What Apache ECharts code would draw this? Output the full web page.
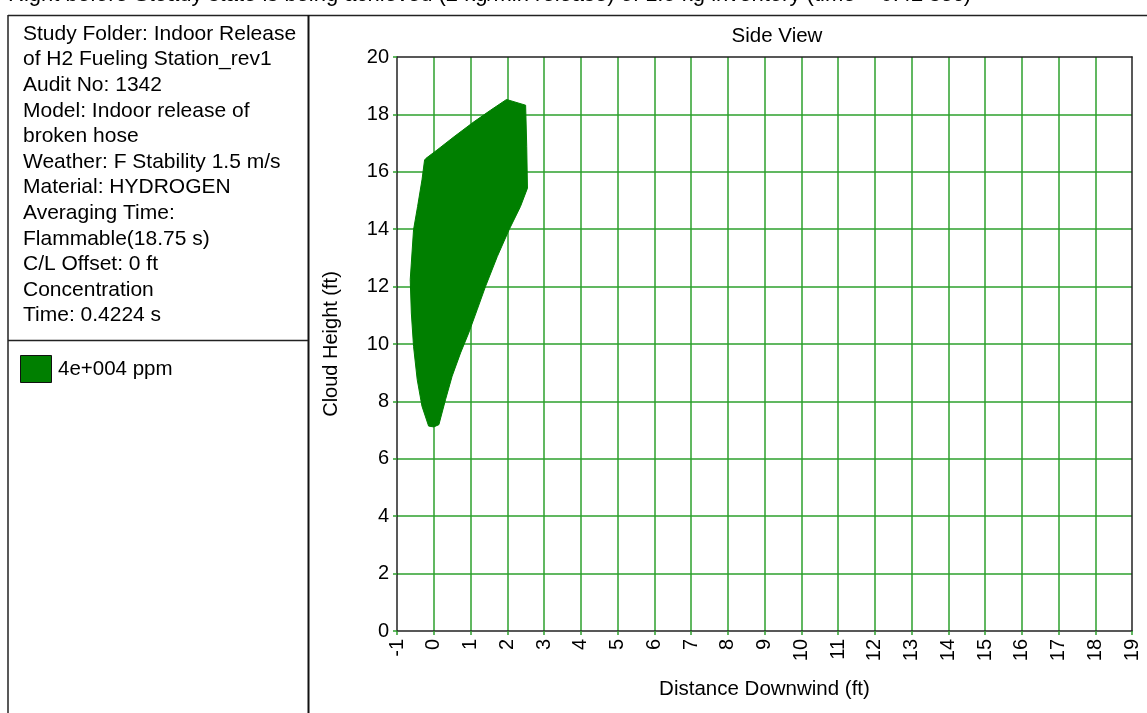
<!DOCTYPE html>
<html>
<head>
<meta charset="utf-8">
<script src="https://cdn.jsdelivr.net/npm/echarts@6/dist/echarts.min.js"></script>
<style>
  html, body { margin: 0; padding: 0; background: #fff; }
  #chart { width: 1147px; height: 713px; }
</style>
</head>
<body>
<div id="chart"></div>
<script>
// Outline of the 4e+004 ppm cloud, side view (ft), traced clockwise from the top peak
const shapeX = [1.98, 2.5, 2.53, 2.55, 2.36, 2.05, 1.73, 1.41, 1.18, 0.95, 0.73, 0.5, 0.32, 0.14, 0, -0.14,
  -0.32, -0.45, -0.55, -0.61, -0.64, -0.61, -0.55, -0.44, -0.32, -0.25, -0.21, 0.09, 0.55, 1.09, 1.55];
const shapeY = [18.52, 18.32, 16.88, 15.43, 14.79, 13.98, 13.05, 12.01, 11.19, 10.38, 9.69, 8.88, 8.06, 7.19, 7.11, 7.14,
  7.83, 8.76, 9.92, 11.08, 12.24, 12.82, 13.98, 14.79, 15.72, 16.41, 16.47, 16.76, 17.22, 17.74, 18.15];

const pageTitle = 'Right before Steady state is being achieved (2 kg/min release) of 1.5 kg inventory (time = 0.42 sec)';
const infoLines = [
  'Study Folder: Indoor Release',
  'of H2 Fueling Station_rev1',
  'Audit No: 1342',
  'Model: Indoor release of',
  'broken hose',
  'Weather: F Stability 1.5 m/s',
  'Material: HYDROGEN',
  'Averaging Time:',
  'Flammable(18.75 s)',
  'C/L Offset: 0 ft',
  'Concentration',
  'Time: 0.4224 s'
];
const legendLabel = '4e+004 ppm';

const FONT = '"Liberation Sans", Arial, sans-serif';
const GRID_GREEN = '#2ca02c';
const CLOUD_GREEN = '#007f00';

const chart = echarts.init(document.getElementById('chart'));

// left info panel: frame, text lines and the legend swatch
const graphics = [
  {type: 'text', left: 8, top: -16, style: {text: pageTitle, font: '22px ' + FONT, fill: '#000'}},
  {type: 'line', shape: {x1: 8, y1: 15.5, x2: 1147, y2: 15.5}, style: {stroke: '#222', lineWidth: 1.5}},
  {type: 'line', shape: {x1: 8, y1: 15, x2: 8, y2: 713}, style: {stroke: '#222', lineWidth: 1.5}},
  {type: 'line', shape: {x1: 308.5, y1: 15, x2: 308.5, y2: 713}, style: {stroke: '#111', lineWidth: 2}},
  {type: 'line', shape: {x1: 8, y1: 340.5, x2: 308, y2: 340.5}, style: {stroke: '#222', lineWidth: 1.5}},
  {type: 'rect', shape: {x: 20.5, y: 355.5, width: 31, height: 27}, style: {fill: CLOUD_GREEN, stroke: '#111', lineWidth: 1}},
  {type: 'text', left: 58, top: 359, style: {text: legendLabel, font: '20.5px ' + FONT, fill: '#000'}}
];
infoLines.forEach((t, i) => {
  graphics.push({type: 'text', left: 23, top: 23.5 + i * 25.6, style: {text: t, font: '21px ' + FONT, fill: '#000'}});
});

const option = {
  backgroundColor: '#fff',
  animation: false,
  textStyle: {fontFamily: FONT},
  title: {
    text: 'Side View',
    left: 772,
    textAlign: 'center',
    top: 21,
    textStyle: {fontSize: 20.5, fontWeight: 'normal', color: '#000', fontFamily: FONT}
  },
  grid: {left: 397, right: 15, top: 57, bottom: 82},
  xAxis: [
    {
      type: 'value',
      min: -1,
      max: 19,
      interval: 1,
      name: 'Distance Downwind (ft)',
      nameLocation: 'middle',
      nameGap: 48,
      nameTextStyle: {fontSize: 20.5, color: '#000', fontFamily: FONT},
      axisLine: {onZero: false, lineStyle: {color: '#222', width: 1.5}},
      axisTick: {length: 4, lineStyle: {color: GRID_GREEN, width: 1.5}},
      axisLabel: {rotate: 90, fontSize: 20, color: '#000', margin: 8, fontFamily: FONT},
      splitLine: {show: true, showMinLine: false, showMaxLine: false, lineStyle: {color: GRID_GREEN, width: 1.5}}
    },
    {
      type: 'value', position: 'top', min: -1, max: 19,
      axisLine: {show: true, onZero: false, lineStyle: {color: '#222', width: 1.5}},
      axisTick: {show: false}, axisLabel: {show: false}, splitLine: {show: false}
    }
  ],
  yAxis: [
    {
      type: 'value',
      min: 0,
      max: 20,
      interval: 2,
      name: 'Cloud Height (ft)',
      nameLocation: 'middle',
      nameGap: 56,
      nameTextStyle: {fontSize: 20, color: '#000', fontFamily: FONT},
      axisLine: {show: true, onZero: false, lineStyle: {color: '#222', width: 1.5}},
      axisTick: {show: true, length: 4, lineStyle: {color: GRID_GREEN, width: 1.5}},
      axisLabel: {fontSize: 20, color: '#000', margin: 8, fontFamily: FONT},
      splitLine: {show: true, showMinLine: false, showMaxLine: false, lineStyle: {color: GRID_GREEN, width: 1.5}}
    },
    {
      type: 'value', position: 'right', min: 0, max: 20,
      axisLine: {show: true, onZero: false, lineStyle: {color: '#222', width: 1.5}},
      axisTick: {show: false}, axisLabel: {show: false}, splitLine: {show: false}
    }
  ],
  graphic: graphics,
  series: [
    {
      type: 'custom',
      xAxisIndex: 0,
      yAxisIndex: 0,
      data: shapeX.map((x, i) => [x, shapeY[i]]),
      renderItem: function (params, api) {
        // draw the whole cloud outline once, as one polygon
        if (params.dataIndex !== 0) return null;
        const pts = shapeX.map((x, i) => api.coord([x, shapeY[i]]));
        return {type: 'polygon', shape: {points: pts}, style: {fill: CLOUD_GREEN, stroke: CLOUD_GREEN, lineWidth: 1}};
      }
    }
  ]
};

chart.setOption(option);
</script>
</body>
</html>
